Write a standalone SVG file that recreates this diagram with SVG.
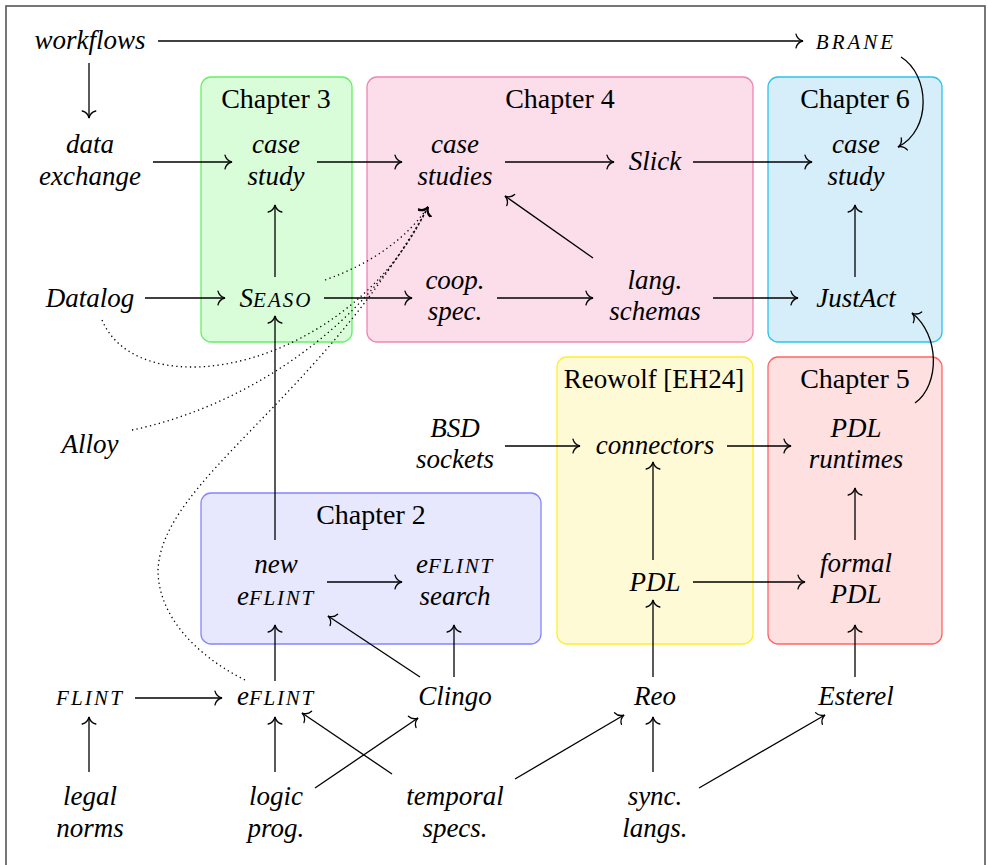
<svg xmlns="http://www.w3.org/2000/svg" width="988" height="865" viewBox="0 0 988 865" font-family="Liberation Serif, Times New Roman, serif">
  <defs>
    <marker id="to" markerUnits="userSpaceOnUse" markerWidth="20" markerHeight="20" viewBox="-10 -10 20 20" refX="0" refY="0" orient="auto" overflow="visible">
      <path d="M-7,-6.8 C-6,-2.6 -2.5,-0.6 0,0 C-2.5,0.6 -6,2.6 -7,6.8" fill="none" stroke="#000" stroke-width="1.3" stroke-linecap="round"/>
    </marker>
  </defs>

  <rect width="988" height="865" fill="#fff"/>
  <!-- outer frame -->
  <rect x="6" y="6" width="979" height="880" fill="none" stroke="#555" stroke-width="1.6"/>

  <!-- chapter boxes -->
  <g id="chapter3">
    <rect x="201" y="77" width="151" height="265" rx="10" fill="#d9fdd9" stroke="#66f066" stroke-width="1.3"/>
    <text font-family="Liberation Serif" font-size="28" text-anchor="middle" x="276" y="108">Chapter 3</text>
  </g>
  <g id="chapter4">
    <rect x="367" y="77" width="386" height="265" rx="10" fill="#fbdeea" stroke="#ee86b2" stroke-width="1.3"/>
    <text font-family="Liberation Serif" font-size="28" text-anchor="middle" x="560" y="108">Chapter 4</text>
  </g>
  <g id="chapter6">
    <rect x="768" y="77" width="174" height="265" rx="10" fill="#d5eef9" stroke="#2cc2ee" stroke-width="1.3"/>
    <text font-family="Liberation Serif" font-size="28" text-anchor="middle" x="855" y="108">Chapter 6</text>
  </g>
  <g id="reowolf">
    <rect x="557" y="357" width="196" height="287" rx="10" fill="#fefad6" stroke="#ffee2a" stroke-width="1.3"/>
    <text font-family="Liberation Serif" font-size="27" text-anchor="middle" x="654" y="388">Reowolf [EH24]</text>
  </g>
  <g id="chapter5">
    <rect x="768" y="357" width="174" height="287" rx="10" fill="#fee0e0" stroke="#ff6464" stroke-width="1.3"/>
    <text font-family="Liberation Serif" font-size="28" text-anchor="middle" x="855" y="388">Chapter 5</text>
  </g>
  <g id="chapter2">
    <rect x="201" y="493" width="340" height="151" rx="10" fill="#e7e7fd" stroke="#8585ff" stroke-width="1.3"/>
    <text font-family="Liberation Serif" font-size="28" text-anchor="middle" x="371" y="524">Chapter 2</text>
  </g>

  <!-- connectors -->
  <g id="connectors" fill="none" stroke="#000" stroke-width="1.3" marker-end="url(#to)">
    <path d="M158,41 H803"/>
    <path d="M89,63 V118"/>
    <path d="M153,162 H232"/>
    <path d="M317,162 H402"/>
    <path d="M505,162 H614"/>
    <path d="M693,162 H812"/>
    <path d="M901,57 C930,75 932,130 898,147"/>
    <path d="M275,277 V205"/>
    <path d="M145,298 H225"/>
    <path d="M324,298 H412"/>
    <path d="M497,298 H593"/>
    <path d="M713,298 H798"/>
    <path d="M593,258 L505,196"/>
    <path d="M855,277 V205"/>
    <path d="M915,403 C940,385 940,335 912,313"/>
    <path d="M505,446 H580"/>
    <path d="M727,446 H791"/>
    <path d="M855,540 V488"/>
    <path d="M653,560 V462"/>
    <path d="M275,540 V316"/>
    <path d="M327,582 H402"/>
    <path d="M693,582 H805"/>
    <path d="M135,698 H222"/>
    <path d="M275,681 V625"/>
    <path d="M420,677 L328,616"/>
    <path d="M454,677 V625"/>
    <path d="M653,677 V600"/>
    <path d="M855,677 V625"/>
    <path d="M89,772 V717"/>
    <path d="M275,772 V717"/>
    <path d="M315,788 L418,718"/>
    <path d="M392,774 L302,713"/>
    <path d="M515,779 L624,715"/>
    <path d="M653,772 V717"/>
    <path d="M699,788 L825,715"/>
    <!-- dotted influences on the chapter 4 case studies -->
    <g stroke-dasharray="1.3 3.3">
      <path d="M325,280 Q395,255 428,207"/>
      <path d="M102,320 C140,410 350,370 428,207"/>
      <path d="M132,430 C230,410 360,340 428,207"/>
      <path d="M245,680 C195,655 158,615 158,570 C162,480 320,400 428,207"/>
    </g>
  </g>

  <!-- nodes -->
  <g id="workflows"><text font-family="Liberation Serif" font-style="italic" font-size="27" text-anchor="middle" x="90" y="49">workflows</text></g>
  <g id="brane"><text font-family="Liberation Serif" font-style="italic" font-size="21" letter-spacing="3" text-anchor="middle" x="856" y="49">BRANE</text></g>
  <g id="data-exchange"><text font-family="Liberation Serif" font-style="italic" font-size="27" text-anchor="middle" x="90" y="153">data</text><text font-family="Liberation Serif" font-style="italic" font-size="27" text-anchor="middle" x="90" y="185">exchange</text></g>
  <g id="case-study-3"><text font-family="Liberation Serif" font-style="italic" font-size="27" text-anchor="middle" x="276" y="153">case</text><text font-family="Liberation Serif" font-style="italic" font-size="27" text-anchor="middle" x="276" y="185">study</text></g>
  <g id="case-studies-4"><text font-family="Liberation Serif" font-style="italic" font-size="27" text-anchor="middle" x="455" y="153">case</text><text font-family="Liberation Serif" font-style="italic" font-size="27" text-anchor="middle" x="455" y="185">studies</text></g>
  <g id="slick"><text font-family="Liberation Serif" font-style="italic" font-size="27" text-anchor="middle" x="655" y="170">Slick</text></g>
  <g id="case-study-6"><text font-family="Liberation Serif" font-style="italic" font-size="27" text-anchor="middle" x="856" y="153">case</text><text font-family="Liberation Serif" font-style="italic" font-size="27" text-anchor="middle" x="856" y="185">study</text></g>
  <g id="datalog"><text font-family="Liberation Serif" font-style="italic" font-size="27" text-anchor="middle" x="90" y="307">Datalog</text></g>
  <g id="seaso"><text font-family="Liberation Serif" font-style="italic" font-size="27" text-anchor="middle" x="276" y="307">S<tspan font-size="21" letter-spacing="2">EASO</tspan></text></g>
  <g id="coop-spec"><text font-family="Liberation Serif" font-style="italic" font-size="27" text-anchor="middle" x="455" y="289">coop.</text><text font-family="Liberation Serif" font-style="italic" font-size="27" text-anchor="middle" x="455" y="320">spec.</text></g>
  <g id="lang-schemas"><text font-family="Liberation Serif" font-style="italic" font-size="27" text-anchor="middle" x="655" y="289">lang.</text><text font-family="Liberation Serif" font-style="italic" font-size="27" text-anchor="middle" x="655" y="320">schemas</text></g>
  <g id="justact"><text font-family="Liberation Serif" font-style="italic" font-size="27" text-anchor="middle" x="856" y="307">JustAct</text></g>
  <g id="alloy"><text font-family="Liberation Serif" font-style="italic" font-size="27" text-anchor="middle" x="90" y="453">Alloy</text></g>
  <g id="bsd-sockets"><text font-family="Liberation Serif" font-style="italic" font-size="27" text-anchor="middle" x="455" y="437">BSD</text><text font-family="Liberation Serif" font-style="italic" font-size="27" text-anchor="middle" x="455" y="468">sockets</text></g>
  <g id="connectors-node"><text font-family="Liberation Serif" font-style="italic" font-size="27" text-anchor="middle" x="655" y="454">connectors</text></g>
  <g id="pdl-runtimes"><text font-family="Liberation Serif" font-style="italic" font-size="27" text-anchor="middle" x="856" y="437">PDL</text><text font-family="Liberation Serif" font-style="italic" font-size="27" text-anchor="middle" x="856" y="468">runtimes</text></g>
  <g id="new-eflint"><text font-family="Liberation Serif" font-style="italic" font-size="27" text-anchor="middle" x="276" y="573">new</text><text font-family="Liberation Serif" font-style="italic" font-size="27" text-anchor="middle" x="276" y="605">e<tspan font-size="21" letter-spacing="1.8">FLINT</tspan></text></g>
  <g id="eflint-search"><text font-family="Liberation Serif" font-style="italic" font-size="27" text-anchor="middle" x="455" y="573">e<tspan font-size="21" letter-spacing="1.8">FLINT</tspan></text><text font-family="Liberation Serif" font-style="italic" font-size="27" text-anchor="middle" x="455" y="605">search</text></g>
  <g id="pdl"><text font-family="Liberation Serif" font-style="italic" font-size="27" text-anchor="middle" x="655" y="591">PDL</text></g>
  <g id="formal-pdl"><text font-family="Liberation Serif" font-style="italic" font-size="27" text-anchor="middle" x="856" y="572">formal</text><text font-family="Liberation Serif" font-style="italic" font-size="27" text-anchor="middle" x="856" y="603">PDL</text></g>
  <g id="flint"><text font-family="Liberation Serif" font-style="italic" font-size="21" letter-spacing="2.2" text-anchor="middle" x="90" y="705">FLINT</text></g>
  <g id="eflint"><text font-family="Liberation Serif" font-style="italic" font-size="27" text-anchor="middle" x="276" y="705">e<tspan font-size="21" letter-spacing="1.8">FLINT</tspan></text></g>
  <g id="clingo"><text font-family="Liberation Serif" font-style="italic" font-size="27" text-anchor="middle" x="455" y="705">Clingo</text></g>
  <g id="reo"><text font-family="Liberation Serif" font-style="italic" font-size="27" text-anchor="middle" x="655" y="705">Reo</text></g>
  <g id="esterel"><text font-family="Liberation Serif" font-style="italic" font-size="27" text-anchor="middle" x="856" y="705">Esterel</text></g>
  <g id="legal-norms"><text font-family="Liberation Serif" font-style="italic" font-size="27" text-anchor="middle" x="90" y="805">legal</text><text font-family="Liberation Serif" font-style="italic" font-size="27" text-anchor="middle" x="90" y="837">norms</text></g>
  <g id="logic-prog"><text font-family="Liberation Serif" font-style="italic" font-size="27" text-anchor="middle" x="276" y="805">logic</text><text font-family="Liberation Serif" font-style="italic" font-size="27" text-anchor="middle" x="276" y="837">prog.</text></g>
  <g id="temporal-specs"><text font-family="Liberation Serif" font-style="italic" font-size="27" text-anchor="middle" x="455" y="805">temporal</text><text font-family="Liberation Serif" font-style="italic" font-size="27" text-anchor="middle" x="455" y="837">specs.</text></g>
  <g id="sync-langs"><text font-family="Liberation Serif" font-style="italic" font-size="27" text-anchor="middle" x="655" y="805">sync.</text><text font-family="Liberation Serif" font-style="italic" font-size="27" text-anchor="middle" x="655" y="837">langs.</text></g>
</svg>
